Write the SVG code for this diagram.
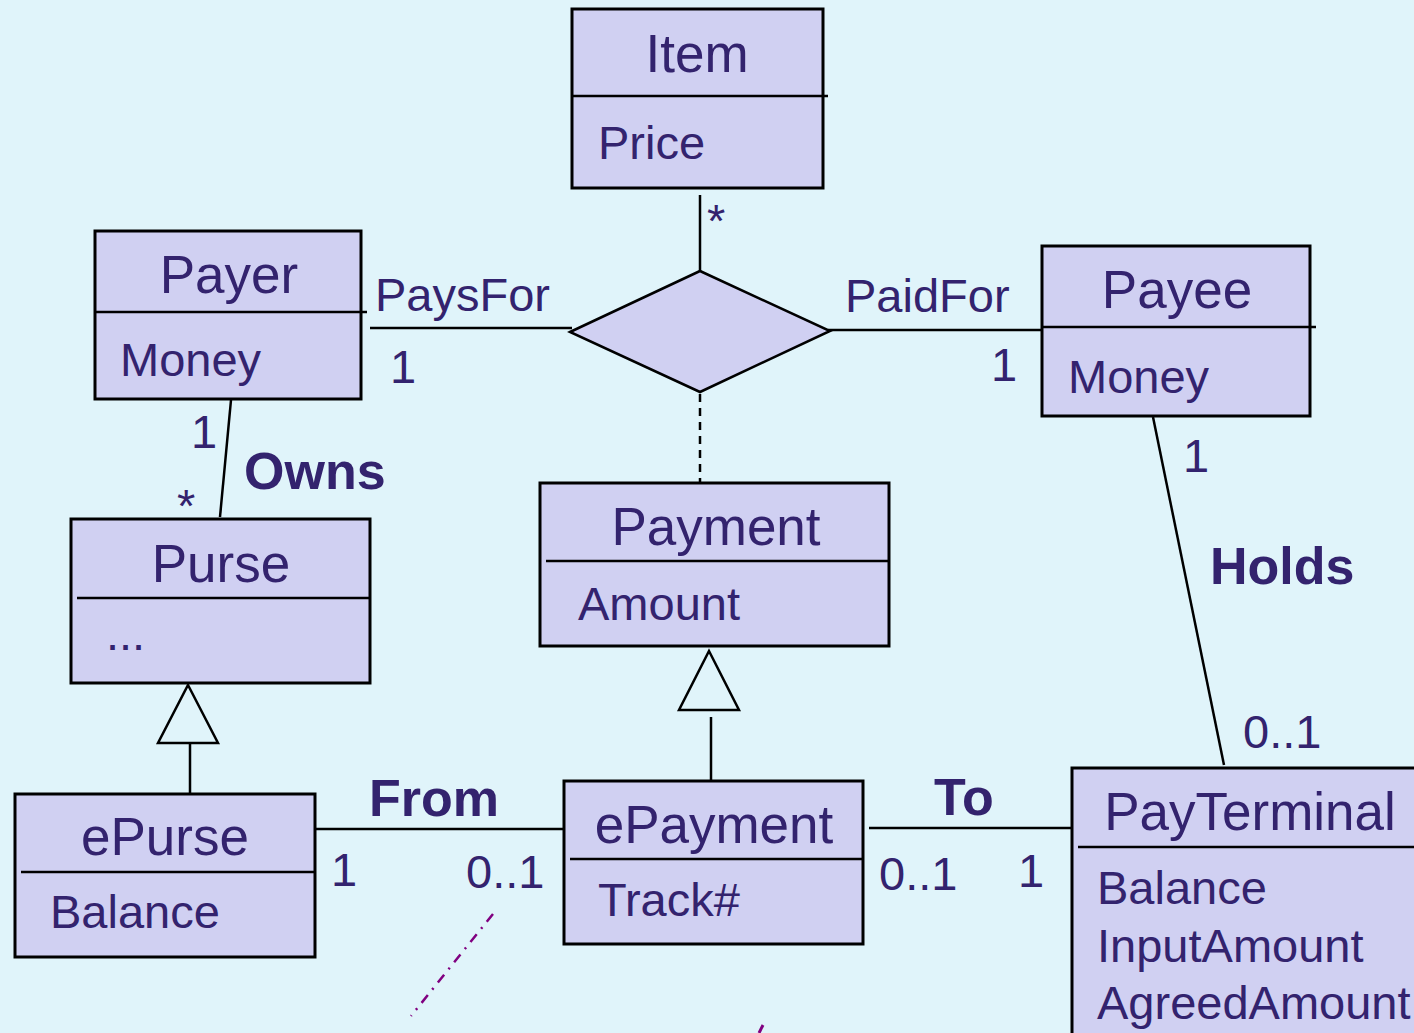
<svg xmlns="http://www.w3.org/2000/svg" width="1414" height="1033" viewBox="0 0 1414 1033">
<style>
.box{fill:#D0D0F2;stroke:#000;stroke-width:3}
.div{stroke:#000;stroke-width:2.5}
.ln{stroke:#000;stroke-width:2.5;fill:none}
text{font-family:"Liberation Sans",Arial,sans-serif;fill:#33236E}
.t{font-size:53px;text-anchor:middle}
.a{font-size:47px}
.l{font-size:47px}
.b{font-size:52px;font-weight:bold}
</style>
<rect width="1414" height="1033" fill="#E0F4FA"/>
<g id="connectors">
<line class="ln" x1="700" y1="195" x2="700" y2="271"/>
<line class="ln" x1="370" y1="328" x2="572" y2="328"/>
<line class="ln" x1="828" y1="330" x2="1050" y2="330"/>
<line class="ln" x1="700" y1="394" x2="700" y2="483" stroke-dasharray="8,6"/>
<line class="ln" x1="231" y1="400" x2="220" y2="517"/>
<line class="ln" x1="1153" y1="417" x2="1224" y2="765"/>
<polygon class="ln" points="188,685 218,743 158,743"/>
<line class="ln" x1="190" y1="743" x2="190" y2="794"/>
<polygon class="ln" points="709,651 739,710 679,710"/>
<line class="ln" x1="711" y1="717" x2="711" y2="781"/>
<line class="ln" x1="315" y1="829" x2="564" y2="829"/>
<line class="ln" x1="869" y1="828" x2="1072" y2="828"/>
<line x1="493" y1="914" x2="411" y2="1016" stroke="#800080" stroke-width="2.5" stroke-dasharray="10,7,2,7"/>
<line x1="763" y1="1025" x2="759" y2="1033" stroke="#800080" stroke-width="3"/>
<polygon id="assoc" points="570,332 700,271 830,331 700,392" fill="#D0D0F2" stroke="#000" stroke-width="2.5"/>
<text class="l" x="707" y="237" font-size="40">*</text>
<text class="l" x="375" y="311">PaysFor</text>
<text class="l" x="390" y="383">1</text>
<text class="l" x="845" y="312">PaidFor</text>
<text class="l" x="991" y="381">1</text>
<text class="l" x="191" y="448">1</text>
<text class="l" x="177" y="522" font-size="40">*</text>
<text class="b" x="244" y="489">Owns</text>
<text class="l" x="1183" y="472">1</text>
<text class="b" x="1210" y="584">Holds</text>
<text class="l" x="1243" y="748">0..1</text>
<text class="b" x="369" y="816">From</text>
<text class="l" x="331" y="886">1</text>
<text class="l" x="466" y="888">0..1</text>
<text class="b" x="934" y="815">To</text>
<text class="l" x="879" y="890">0..1</text>
<text class="l" x="1018" y="887">1</text>
</g>
<g id="item">
<rect class="box" x="572" y="9" width="251" height="179"/>
<line class="div" x1="572" y1="96" x2="828" y2="96"/>
<text class="t" x="697" y="72">Item</text>
<text class="a" x="598" y="159">Price</text>
</g>
<g id="payer">
<rect class="box" x="95" y="231" width="266" height="168"/>
<line class="div" x1="95" y1="312" x2="367" y2="312"/>
<text class="t" x="229" y="293">Payer</text>
<text class="a" x="120" y="376">Money</text>
</g>
<g id="payee">
<rect class="box" x="1042" y="246" width="268" height="170"/>
<line class="div" x1="1042" y1="327" x2="1316" y2="327"/>
<text class="t" x="1177" y="308">Payee</text>
<text class="a" x="1068" y="393">Money</text>
</g>
<g id="purse">
<rect class="box" x="71" y="519" width="299" height="164"/>
<line class="div" x1="77" y1="598" x2="370" y2="598"/>
<text class="t" x="221" y="582">Purse</text>
<text class="a" x="106" y="650">...</text>
</g>
<g id="payment">
<rect class="box" x="540" y="483" width="349" height="163"/>
<line class="div" x1="546" y1="561" x2="889" y2="561"/>
<text class="t" x="716" y="545">Payment</text>
<text class="a" x="578" y="620">Amount</text>
</g>
<g id="epurse">
<rect class="box" x="15" y="794" width="300" height="163"/>
<line class="div" x1="21" y1="872" x2="315" y2="872"/>
<text class="t" x="165" y="855">ePurse</text>
<text class="a" x="50" y="928">Balance</text>
</g>
<g id="epayment">
<rect class="box" x="564" y="781" width="299" height="163"/>
<line class="div" x1="570" y1="859" x2="863" y2="859"/>
<text class="t" x="714" y="843">ePayment</text>
<text class="a" x="598" y="916">Track#</text>
</g>
<g id="payterminal">
<rect class="box" x="1072" y="768" width="360" height="300"/>
<line class="div" x1="1078" y1="847" x2="1414" y2="847"/>
<text class="t" x="1250" y="830">PayTerminal</text>
<text class="a" x="1097" y="904">Balance</text>
<text class="a" x="1097" y="962">InputAmount</text>
<text class="a" x="1097" y="1019">AgreedAmount</text>
</g>
</svg>
